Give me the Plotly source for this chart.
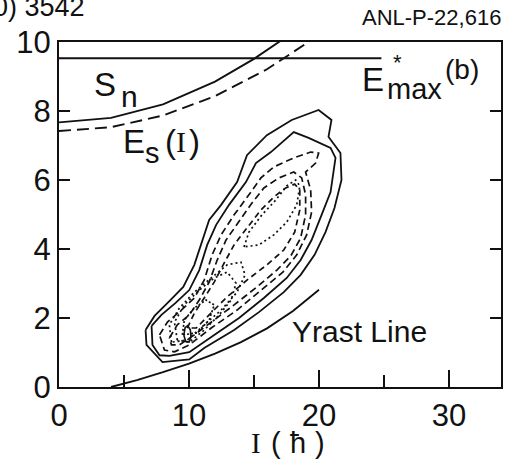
import plotly.graph_objects as go

# Reference curves (I in hbar, E* in MeV)
sn_I = [0.0, 24.8]
sn_E = [9.53, 9.53]

es_solid_I = [0.0, 4.0, 8.0, 12.0, 15.0, 17.3]
es_solid_E = [7.67, 7.80, 8.19, 8.85, 9.51, 10.10]

es_dashed_I = [0.0, 4.0, 8.0, 12.0, 16.0, 19.6]
es_dashed_E = [7.42, 7.53, 7.87, 8.43, 9.21, 10.10]

yrast_I = [4.0, 6.0, 8.0, 10.0, 12.0, 14.0, 16.0, 18.0, 20.0]
yrast_E = [0.0, 0.20, 0.43, 0.68, 0.97, 1.30, 1.70, 2.20, 2.82]

# Entry-distribution contour levels (outermost first)
c1_I = [6.66, 7.35, 8.49, 9.56, 10.41, 11.02, 11.55, 12.47, 13.70, 14.46, 15.99, 17.90, 19.97,
        20.96, 20.73, 21.65, 21.73, 21.19, 20.50, 19.66, 18.59, 17.29, 15.38, 13.47, 11.17,
        10.02, 7.96, 6.73, 6.66]
c1_E = [1.65, 2.06, 2.49, 2.90, 3.54, 4.26, 4.84, 5.28, 5.94, 6.72, 7.30, 7.74, 8.03,
        7.74, 7.25, 6.78, 6.00, 5.19, 4.49, 3.83, 3.25, 2.75, 2.17, 1.65, 1.13,
        0.80, 0.72, 1.22, 1.65]

c2_I = [7.12, 7.88, 8.95, 10.02, 10.79, 11.40, 12.09, 13.08, 14.38, 15.15, 16.30, 18.06, 19.20,
        20.89, 21.27, 20.89, 20.20, 19.43, 18.59, 17.52, 15.76, 13.85, 11.94, 10.02, 8.49,
        7.73, 7.19, 7.12]
c2_E = [1.77, 2.09, 2.43, 2.81, 3.39, 4.12, 4.70, 5.28, 5.94, 6.49, 6.81, 7.39, 7.22,
        6.93, 6.64, 5.65, 4.99, 4.26, 3.68, 3.16, 2.58, 2.00, 1.51, 1.01, 0.90,
        0.92, 1.22, 1.77]

c3_I = [7.73, 8.34, 9.41, 10.41, 11.17, 11.78, 12.47, 13.47, 14.61, 15.53, 16.53, 18.06, 19.36,
        19.97, 19.74, 18.97, 19.36, 19.43, 19.05, 18.29, 17.22, 15.53, 13.70, 11.71, 10.02,
        8.88, 8.11, 7.73]
c3_E = [1.51, 1.88, 2.23, 2.58, 3.10, 3.83, 4.41, 4.99, 5.57, 6.06, 6.38, 6.64, 6.81,
        6.78, 6.49, 6.23, 5.71, 5.07, 4.41, 3.83, 3.33, 2.81, 2.23, 1.71, 1.22,
        1.02, 1.07, 1.51]

c4_I = [8.49, 9.10, 10.02, 10.79, 11.55, 12.17, 12.85, 13.85, 14.84, 15.76, 16.91, 18.06, 18.67,
        18.97, 18.97, 18.59, 17.83, 16.76, 15.23, 13.47, 11.71, 10.41, 9.26, 8.65, 8.49]
c4_E = [1.42, 1.80, 2.09, 2.52, 3.04, 3.68, 4.26, 4.78, 5.33, 5.77, 6.06, 6.23, 6.06,
        5.57, 4.99, 4.32, 3.80, 3.39, 2.90, 2.38, 1.88, 1.51, 1.22, 1.22, 1.42]

c5_I = [9.87, 10.41, 11.17, 11.94, 12.70, 13.47, 14.46, 15.53, 16.53, 17.44, 18.13, 18.52,
        18.52, 18.13, 17.29, 15.99, 14.46, 12.93, 11.55, 10.56, 9.87]
c5_E = [1.71, 2.14, 2.58, 3.04, 3.59, 4.12, 4.61, 5.13, 5.51, 5.77, 5.88, 5.71,
        5.13, 4.49, 3.97, 3.54, 3.10, 2.61, 2.09, 1.71, 1.71]

c6_I = [14.23, 14.61, 15.61, 16.68, 17.52, 18.21, 18.52, 18.29, 17.52, 16.53, 15.38, 14.23]
c6_E = [4.06, 4.49, 4.99, 5.42, 5.83, 6.00, 5.83, 5.28, 4.78, 4.41, 4.12, 4.06]

c7_I = [8.65, 8.49, 9.26, 10.41, 11.71, 12.93, 14.00, 14.31, 13.70, 12.47, 11.17, 9.87, 8.65]
c7_E = [1.30, 1.80, 2.29, 2.75, 3.16, 3.54, 3.62, 3.25, 2.75, 2.23, 1.80, 1.36, 1.30]

c8_I = [9.10, 8.88, 9.64, 10.79, 11.94, 12.93, 13.62, 13.24, 12.32, 11.17, 10.02, 9.10]
c8_E = [1.36, 1.88, 2.38, 2.81, 3.16, 3.33, 3.01, 2.52, 2.09, 1.65, 1.30, 1.36]

c9_I = [9.49, 9.64, 10.41, 11.32, 11.94, 11.55, 10.63, 9.49]
c9_E = [1.51, 1.94, 2.29, 2.52, 2.38, 1.94, 1.57, 1.51]

c10_I = [9.60, 9.70, 9.90, 10.10, 10.15, 10.00, 9.75, 9.60]
c10_E = [1.50, 1.72, 1.78, 1.66, 1.45, 1.30, 1.32, 1.50]

INK = "#111111"
SANS = "Liberation Sans, Arial, sans-serif"
SERIF = "Liberation Serif, Times New Roman, serif"

fig = go.Figure()


def add_line(xs, ys, width=1.8, dash="solid"):
    fig.add_trace(go.Scatter(x=xs, y=ys, mode="lines",
                             line=dict(color=INK, width=width, dash=dash),
                             hoverinfo="skip", showlegend=False))


add_line(sn_I, sn_E, 2.0)
add_line(es_solid_I, es_solid_E, 1.9)
add_line(es_dashed_I, es_dashed_E, 1.9, "12px,6px")
add_line(yrast_I, yrast_E, 1.9)

add_line(c1_I, c1_E, 1.8)
add_line(c2_I, c2_E, 1.8)
add_line(c3_I, c3_E, 1.7, "7px,4px")
add_line(c4_I, c4_E, 1.7, "7px,4px")
add_line(c5_I, c5_E, 1.7, "6px,4px")
add_line(c6_I, c6_E, 1.7, "2px,3px")
add_line(c7_I, c7_E, 1.7, "2px,3px")
add_line(c8_I, c8_E, 1.7, "2px,3px")
add_line(c9_I, c9_E, 1.7, "2px,2px")
add_line(c10_I, c10_E, 1.6)

ann = []


def label(text, x, y, size=32, xanchor="left", yanchor="middle", xref="x", yref="y", family=SANS):
    ann.append(dict(text=text, x=x, y=y, xref=xref, yref=yref, showarrow=False,
                    xanchor=xanchor, yanchor=yanchor,
                    font=dict(family=family, size=size, color=INK)))


# S_n
label("S", 2.5, 8.78, size=33)
label("n", 4.6, 8.42, size=30)
# E_s(I)
label("E", 4.75, 7.13, size=33)
label("s", 6.45, 6.78, size=29)
label("(", 8.0, 7.13, size=33)
label("I", 8.85, 7.13, size=30, family=SERIF)
label(")", 9.85, 7.13, size=33)
# E*_max (b)
label("E", 23.15, 8.92, size=33)
label("max", 25.05, 8.65, size=29)
label("*", 26.0, 9.42, size=22, xanchor="center")
label("(b)", 29.5, 9.2, size=28)
label("Yrast Line", 17.8, 1.62, size=30)
# axis title I(ħ), letters spaced out
label("I", 15.15, -0.162, size=29, xanchor="center", yref="paper", family=SERIF)
label("(", 16.68, -0.162, size=29, xanchor="center", yref="paper")
label("ħ", 18.40, -0.162, size=29, xanchor="center", yref="paper")
label(")", 20.05, -0.162, size=29, xanchor="center", yref="paper")
# page header texts
label("ANL-P-22,616", 1.005, 1.072, size=22, xanchor="right", xref="paper", yref="paper")
label("0) 3542", 0.063, 1.10, size=27, xanchor="right", xref="paper", yref="paper")

fig.update_layout(
    width=508, height=461, autosize=False,
    margin=dict(l=59, r=5, t=42, b=74),
    paper_bgcolor="white", plot_bgcolor="white",
    annotations=ann,
    xaxis=dict(range=[0, 34], tickvals=[0, 10, 20, 30], ticks="inside", ticklen=17, tickwidth=2,
               tickcolor=INK, showline=True, linewidth=2, linecolor=INK, mirror=True,
               showgrid=False, zeroline=False,
               minor=dict(tickvals=[5, 15, 25], ticks="inside", ticklen=12, tickwidth=2, tickcolor=INK),
               tickfont=dict(family=SANS, size=31, color=INK)),
    yaxis=dict(range=[0, 10], tickvals=[0, 2, 4, 6, 8, 10], ticks="inside", ticklen=11, tickwidth=2,
               tickcolor=INK, showline=True, linewidth=2, linecolor=INK, mirror="ticks",
               showgrid=False, zeroline=False,
               tickfont=dict(family=SANS, size=31, color=INK)),
)

fig.write_html("out.html")
